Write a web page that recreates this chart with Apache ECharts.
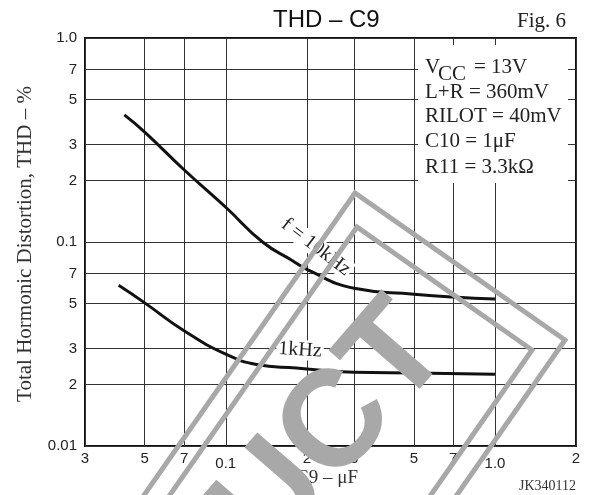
<!DOCTYPE html>
<html>
<head>
<meta charset="utf-8">
<script src="https://cdn.jsdelivr.net/npm/echarts@6/dist/echarts.min.js"></script>
<style>
html, body { margin: 0; padding: 0; background: #fff; }
#thdChart { width: 589px; height: 495px; }
</style>
</head>
<body>
<div id="thdChart"></div>
<script>
// tick positions (C9 in uF, THD in %) and what is printed at them
const xTicks = [0.03, 0.05, 0.07, 0.1, 0.2, 0.3, 0.5, 0.7, 1.0, 2];
const xTickLabels = ['3', '5', '7', '0.1', '2', '3', '5', '7', '1.0', '2'];
const yTicks = [0.01, 0.02, 0.03, 0.05, 0.07, 0.1, 0.2, 0.3, 0.5, 0.7, 1.0];
const yTickLabels = ['0.01', '2', '3', '5', '7', '0.1', '2', '3', '5', '7', '1.0'];

// f = 10kHz curve
const c9_10k = [0.042, 0.05, 0.07, 0.1, 0.137, 0.177, 0.2, 0.3, 0.5, 0.7, 1.0];
const thd_10k = [0.42, 0.346, 0.226, 0.148, 0.1, 0.081, 0.0735, 0.0593, 0.0555, 0.0537, 0.0525];
// 1kHz curve
const c9_1k = [0.04, 0.05, 0.07, 0.1, 0.13, 0.183, 0.3, 0.5, 1.0];
const thd_1k = [0.0613, 0.0503, 0.0367, 0.0282, 0.0251, 0.0241, 0.023, 0.0228, 0.0225];

const SANS = 'Liberation Sans, Arial, sans-serif';
const SERIF = 'Liberation Serif, Times New Roman, serif';
const lg = Math.log10;

let pick = (ticks, labels, v) => {
	for (let i = 0; i < ticks.length; i++) {
		if (Math.abs(lg(ticks[i]) - v) < 1e-6) return labels[i];
	}
	return '';
};
let toPoints = (xs, ys) => xs.map((x, i) => [lg(x), lg(ys[i])]);

let chart = echarts.init(document.getElementById('thdChart'));

// gray stamp in the background of the scan
const stampGray = '#a8a8a8';

let option = {
	animation: false,
	backgroundColor: '#fff',
	grid: {
		left: 85, right: 13, top: 38, bottom: 49,
		show: true, borderColor: '#111', borderWidth: 2
	},
	xAxis: {
		type: 'value',
		min: lg(0.03),
		max: lg(2),
		axisLine: { show: false },
		axisTick: { show: false, customValues: xTicks.map(lg) },
		splitLine: { show: true, lineStyle: { color: '#333', width: 1 } },
		axisLabel: {
			customValues: xTicks.map(lg),
			showMinLabel: true,
			showMaxLabel: true,
			margin: 5,
			fontFamily: SANS,
			fontSize: 15,
			color: '#222',
			formatter: (v) => {
				let s = pick(xTicks, xTickLabels, v);
				return (s === '0.1' || s === '1.0') ? '{lo|' + s + '}' : s; // decade labels sit lower
			},
			rich: {
				lo: { fontFamily: SANS, fontSize: 15, color: '#222', padding: [5, 0, 0, 0] }
			}
		}
	},
	yAxis: {
		type: 'value',
		min: lg(0.01),
		max: lg(1),
		axisLine: { show: false },
		axisTick: { show: false, customValues: yTicks.map(lg) },
		splitLine: { show: true, lineStyle: { color: '#333', width: 1 } },
		axisLabel: {
			customValues: yTicks.map(lg),
			showMinLabel: true,
			showMaxLabel: true,
			margin: 8,
			fontFamily: SANS,
			fontSize: 15,
			color: '#222',
			formatter: (v) => pick(yTicks, yTickLabels, v)
		}
	},
	series: [{
			name: 'f = 10kHz',
			type: 'line',
			data: toPoints(c9_10k, thd_10k),
			smooth: 0.5,
			showSymbol: false,
			lineStyle: { color: '#111', width: 3 }
		},
		{
			name: '1kHz',
			type: 'line',
			data: toPoints(c9_1k, thd_1k),
			smooth: 0.5,
			showSymbol: false,
			lineStyle: { color: '#111', width: 3 }
		}
	],
	graphic: [
		// title and figure number
		{ type: 'text', x: 273, y: 20, z: 50, style: { text: 'THD – C9', font: '24px ' + SANS, fill: '#111', verticalAlign: 'middle' } },
		{ type: 'text', x: 566, y: 21, z: 50, style: { text: 'Fig. 6', font: '21px ' + SERIF, fill: '#222', align: 'right', verticalAlign: 'middle' } },
		// axis names
		{ type: 'text', x: 25, y: 244, rotation: Math.PI / 2, z: 50, style: { text: 'Total Hormonic Distortion, THD – %', font: '21px ' + SERIF, fill: '#333', align: 'center', verticalAlign: 'middle' } },
		{ type: 'text', x: 327, y: 478, z: 50, style: { text: 'C9 – μF', font: '19px ' + SERIF, fill: '#333', align: 'center', verticalAlign: 'middle' } },
		{ type: 'text', x: 576, y: 486, z: 50, style: { text: 'JK340112', font: '14px ' + SERIF, fill: '#333', align: 'right', verticalAlign: 'middle' } },
		// conditions box
		{ type: 'rect', z: 40, shape: { x: 418, y: 45, width: 150, height: 138 }, style: { fill: '#fff' } },
		{ type: 'text', x: 425, y: 67, z: 50, style: { text: 'V', font: '21px ' + SERIF, fill: '#222', verticalAlign: 'middle' } },
		{ type: 'text', x: 438, y: 74, z: 50, style: { text: 'CC', font: '21px ' + SERIF, fill: '#222', verticalAlign: 'middle' } },
		{ type: 'text', x: 474, y: 67, z: 50, style: { text: '= 13V', font: '21px ' + SERIF, fill: '#222', verticalAlign: 'middle' } },
		{ type: 'text', x: 425, y: 92, z: 50, style: { text: 'L+R = 360mV', font: '21px ' + SERIF, fill: '#222', verticalAlign: 'middle' } },
		{ type: 'text', x: 425, y: 116, z: 50, style: { text: 'RILOT = 40mV', font: '21px ' + SERIF, fill: '#222', verticalAlign: 'middle' } },
		{ type: 'text', x: 425, y: 141, z: 50, style: { text: 'C10 = 1μF', font: '21px ' + SERIF, fill: '#222', verticalAlign: 'middle' } },
		{ type: 'text', x: 425, y: 167, z: 50, style: { text: 'R11 = 3.3kΩ', font: '21px ' + SERIF, fill: '#222', verticalAlign: 'middle' } },
		// curve labels
		{ type: 'text', x: 316, y: 247, rotation: -0.65, z: 60, style: { text: 'f = 10kHz', font: '20px ' + SERIF, fill: '#222', align: 'center', verticalAlign: 'middle', backgroundColor: '#fff', padding: [0, 2] } },
		{ type: 'text', x: 300, y: 350, rotation: -0.06, z: 60, style: { text: '1kHz', font: '20px ' + SERIF, fill: '#222', align: 'center', verticalAlign: 'middle', backgroundColor: '#fff', padding: [0, 2] } },
		// stamp drawn over the scan
		{ type: 'polyline', z: 100, shape: { points: [[126, 521], [355, 193], [565, 340], [422, 545]] }, style: { stroke: stampGray, lineWidth: 5, fill: null } },
		{ type: 'polyline', z: 100, shape: { points: [[128, 555], [357, 227], [532, 350], [389, 555]] }, style: { stroke: stampGray, lineWidth: 5, fill: null } },
		{ type: 'text', x: 425, y: 325, rotation: 0.857, z: 100, style: { text: 'PRODUCT', font: 'bold 137px ' + SANS, fill: stampGray, align: 'right', verticalAlign: 'middle' } }
	]
};

chart.setOption(option);
</script>
</body>
</html>
